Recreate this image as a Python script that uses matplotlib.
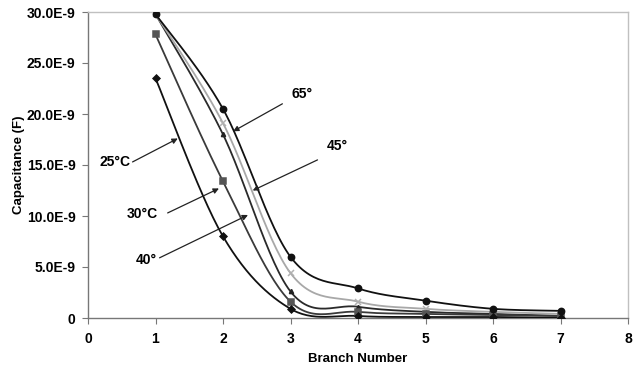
import numpy as np
import matplotlib
matplotlib.use("Agg")
import matplotlib.pyplot as plt

plt.rcParams['font.family'] = ['Liberation Sans', 'DejaVu Sans']

branch = [1, 2, 3, 4, 5, 6, 7]
# capacitance in units of 1E-9 F
cap_65 = [29.8, 20.5, 6.0, 2.9, 1.7, 0.9, 0.7]
cap_45 = [29.8, 19.1, 4.4, 1.6, 0.9, 0.6, 0.4]
cap_40 = [29.8, 18.0, 2.6, 1.1, 0.6, 0.4, 0.2]
cap_30 = [27.8, 13.4, 1.6, 0.6, 0.4, 0.3, 0.2]
cap_25 = [23.5, 8.0, 0.9, 0.2, 0.1, 0.1, 0.0]

y_ticks = [0, 5, 10, 15, 20, 25, 30]
y_ticklabels = ["0", "5.0E-9", "10.0E-9", "15.0E-9", "20.0E-9", "25.0E-9", "30.0E-9"]
x_ticks = [0, 1, 2, 3, 4, 5, 6, 7, 8]


def smooth(x, y, n=30):
    x = np.asarray(x, float)
    y = np.asarray(y, float)
    P = np.column_stack([x, y])
    Pe = np.vstack([P[0], P, P[-1]])
    out = []
    for i in range(1, len(Pe) - 2):
        p0, p1, p2, p3 = Pe[i - 1], Pe[i], Pe[i + 1], Pe[i + 2]
        c1 = p1 + (p2 - p0) / 6.0
        c2 = p2 - (p3 - p1) / 6.0
        t = np.linspace(0, 1, n)[:, None]
        seg = ((1 - t) ** 3) * p1 + 3 * ((1 - t) ** 2) * t * c1 + 3 * (1 - t) * t ** 2 * c2 + t ** 3 * p2
        out.append(seg if i == 1 else seg[1:])
    s = np.vstack(out)
    return s[:, 0], s[:, 1]


fig = plt.figure(figsize=(6.44, 3.66), dpi=100)
ax = fig.add_axes([88 / 644, 1 - 318 / 366, 540 / 644, 306 / 366])

series = [
    (cap_40, '#2a2a2a', '^', '#222222', 3),
    (cap_45, '#a8a8a8', 'x', '#b0b0b0', 4.5),
    (cap_30, '#3a3a3a', 's', '#555555', 5),
    (cap_25, '#111111', 'D', '#111111', 3.5),
    (cap_65, '#111111', 'o', '#111111', 4.5),
]
for ys, lc, mk, mc, ms in series:
    sx, sy = smooth(branch, ys)
    ax.plot(sx, sy, color=lc, lw=1.3, zorder=3)
    ax.plot(branch, ys, ls='none', marker=mk, color=mc, ms=ms, mew=1.1, zorder=4)

ax.set_xlim(0, 8)
ax.set_ylim(0, 30)
ax.set_xticks(x_ticks)
ax.set_yticks(y_ticks)
ax.set_yticklabels(y_ticklabels)
for lab in ax.get_xticklabels() + ax.get_yticklabels():
    lab.set_fontweight('bold')
    lab.set_fontsize(10)
ax.tick_params(axis='both', direction='out', length=4, color='#777777', pad=5)
ax.tick_params(axis='x', pad=6)

ax.spines['left'].set_color('#777777')
ax.spines['bottom'].set_color('#777777')
ax.spines['top'].set_color('#c0c0c0')
ax.spines['right'].set_color('#c0c0c0')
for sp in ax.spines.values():
    sp.set_linewidth(1.0)

ax.set_xlabel('Branch Number', fontsize=9.5, fontweight='bold', labelpad=5)
ax.set_ylabel('Capacitance (F)', fontsize=9.5, fontweight='bold', labelpad=1)

# annotations (data units)
annots = [
    ('25°C', (0.40, 15.3), (0.66, 15.3), (1.33, 17.6)),
    ('30°C', (0.81, 10.2), (1.18, 10.3), (1.94, 12.7)),
    ('40°', (0.86, 5.7), (1.06, 5.9), (2.37, 10.1)),
    ('45°', (3.70, 16.9), (3.40, 15.5), (2.44, 12.5)),
    ('65°', (3.17, 22.0), (2.88, 21.0), (2.15, 18.3)),
]
for txt, tpos, tail, head in annots:
    ax.text(tpos[0], tpos[1], txt, fontsize=10, fontweight='bold', ha='center', va='center', zorder=6)
    ax.annotate('', xy=head, xytext=tail,
                arrowprops=dict(arrowstyle='-|>', color='#222222', lw=0.9,
                                mutation_scale=8, shrinkA=0, shrinkB=0), zorder=6)

fig.savefig('out.png', dpi=100)
